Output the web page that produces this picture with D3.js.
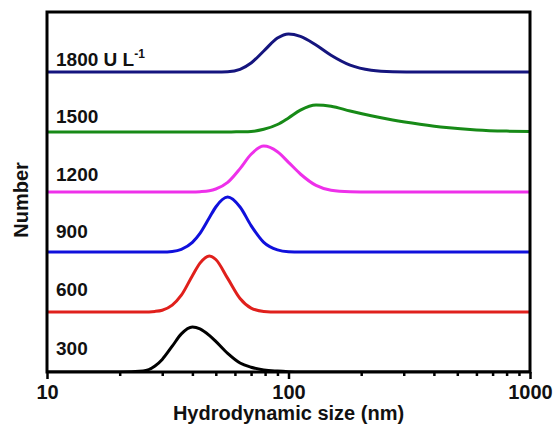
<!DOCTYPE html>
<html>
<head>
<script src="https://cdn.jsdelivr.net/npm/d3@7"></script>
<style>
body { margin: 0; background: #fff; }
svg text { font-family: Arial, "Liberation Sans", sans-serif; font-weight: bold; fill: #111; }
</style>
</head>
<body>
<script>
// hydrodynamic size grid (nm) and number distributions
var sizes   = [10, 20, 25, 28, 30, 33, 36, 40, 43, 47, 50, 56, 63, 70, 79, 90, 100, 112, 130, 150, 180, 220, 270, 350, 450, 600, 800, 1000];
var num300  = [0, 0, 0.3, 2.0, 4.2, 8.6, 12.7, 15, 14.4, 12.2, 10.2, 6.2, 3.0, 1.6, 0.7, 0.3, 0.1, 0, 0, 0, 0, 0, 0, 0, 0, 0, 0, 0];
var num600  = [0, 0, 0, 0.2, 0.6, 2.3, 5.6, 12.1, 16.3, 18.7, 17.5, 11.2, 4.5, 1.3, 0.2, 0, 0, 0, 0, 0, 0, 0, 0, 0, 0, 0, 0, 0];
var num900  = [0, 0, 0, 0, 0, 0.2, 0.9, 3.2, 6.2, 11.4, 15.0, 18.3, 15.0, 8.8, 3.2, 0.7, 0.1, 0, 0, 0, 0, 0, 0, 0, 0, 0, 0, 0];
var num1200 = [0, 0, 0, 0, 0, 0, 0, 0, 0.1, 0.4, 1.0, 3.2, 7.8, 12.6, 15.3, 13.4, 9.9, 6.0, 2.2, 0.6, 0.1, 0, 0, 0, 0, 0, 0, 0];
var num1500 = [0, 0, 0, 0, 0, 0, 0, 0, 0, 0, 0, 0, 0.1, 0.2, 0.9, 2.5, 4.7, 7.3, 9.0, 8.6, 7.0, 5.4, 4.0, 2.6, 1.5, 0.7, 0.3, 0.15];
var num1800 = [0, 0, 0, 0, 0, 0, 0, 0, 0, 0, 0, 0.1, 0.9, 3.0, 7.0, 11.3, 12.7, 11.9, 9.0, 5.6, 2.3, 0.6, 0.1, 0, 0, 0, 0, 0];

var seriesNames = ["300", "600", "900", "1200", "1500", "1800"];
var seriesValues = [num300, num600, num900, num1200, num1500, num1800];
var offsets = [0, 20, 40, 60, 80, 100];
var colors = ["#000000", "#e0201c", "#1010dc", "#ee30ea", "#178a17", "#15157e"];
var majorTicks = [10, 100, 1000];
var minorTicks = [20, 30, 40, 50, 60, 70, 80, 90, 200, 300, 400, 500, 600, 700, 800, 900];

var W = 555, H = 430;
var mLeft = 47, mRight = 530, mTop = 12, mBottom = 372;
var labelGap = [17, 16.5, 14, 11, 9, 6];   // px between baseline of curve and its label

var svg = d3.select("body").append("svg")
    .attr("width", W)
    .attr("height", H);

var x = d3.scaleLog().domain([10, 1000]).range([mLeft, mRight]);
var y = d3.scaleLinear().domain([0, 120]).range([mBottom, mTop]);

var line = d3.line()
    .x(function(d){ return x(d[0]); })
    .y(function(d){ return y(d[1]); })
    .curve(d3.curveMonotoneX);

svg.append("clipPath").attr("id", "clip")
  .append("rect")
    .attr("x", mLeft).attr("y", mTop)
    .attr("width", mRight - mLeft).attr("height", mBottom - mTop);

var plot = svg.append("g").attr("clip-path", "url(#clip)");

seriesValues.forEach(function(vals, i){
    var pts = sizes.map(function(s, j){ return [s, offsets[i] + vals[j]]; });
    plot.append("path")
        .attr("d", line(pts))
        .attr("fill", "none")
        .attr("stroke", colors[i])
        .attr("stroke-width", 3)
        .attr("stroke-linejoin", "round");
});

// series labels
seriesNames.forEach(function(name, i){
    var t = svg.append("text")
        .attr("x", 56)
        .attr("y", y(offsets[i]) - labelGap[i])
        .style("font-size", "19px")
        .text(i == 5 ? name + " U L" : name);
    if (i == 5) {
        t.append("tspan")
            .attr("dy", -8)
            .style("font-size", "12px")
            .text("-1");
    }
});

// axes
var minorAxis = d3.axisBottom(x).tickValues(minorTicks).tickSize(4).tickFormat("");
var majorAxis = d3.axisBottom(x).tickValues(majorTicks).tickSize(7).tickPadding(6).tickFormat(d3.format("d"));

var gMinor = svg.append("g").attr("transform", "translate(0," + mBottom + ")").call(minorAxis);
var gMajor = svg.append("g").attr("transform", "translate(0," + mBottom + ")").call(majorAxis);
[gMinor, gMajor].forEach(function(g){
    g.select(".domain").remove();
    g.selectAll("line").attr("stroke", "#000").attr("stroke-width", 2.5);
});
gMajor.selectAll("text")
    .style("font-size", "20px")
    .style("font-family", "Arial, 'Liberation Sans', sans-serif")
    .style("font-weight", "bold")
    .attr("fill", "#111");

svg.append("rect")
    .attr("x", mLeft).attr("y", mTop)
    .attr("width", mRight - mLeft).attr("height", mBottom - mTop)
    .attr("fill", "none")
    .attr("stroke", "#000")
    .attr("stroke-width", 3);

svg.append("text")
    .attr("x", (mLeft + mRight) / 2)
    .attr("y", 420)
    .attr("text-anchor", "middle")
    .style("font-size", "20px")
    .text("Hydrodynamic size (nm)");

svg.append("text")
    .attr("transform", "translate(28,200) rotate(-90)")
    .attr("text-anchor", "middle")
    .style("font-size", "20px")
    .text("Number");
</script>
</body>
</html>
